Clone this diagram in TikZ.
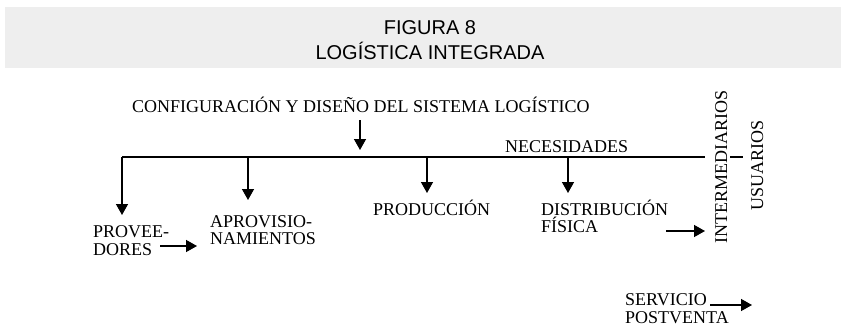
\documentclass[tikz,border=0pt]{standalone}
\usepackage{fontspec}
\setmainfont{Liberation Serif}
\newfontfamily\headfont{Liberation Sans}
\usetikzlibrary{arrows.meta}
\definecolor{bannergray}{HTML}{EEEEEE}
\begin{document}
\begin{tikzpicture}[x=1pt,y=-1pt,
  head/.style={inner sep=0pt,anchor=base,font=\headfont\fontsize{20}{22}\selectfont},
  lbl/.style={inner sep=0pt,anchor=base west,font=\fontsize{18}{18}\selectfont},
  vlbl/.style={inner sep=0pt,anchor=base,rotate=90,font=\fontsize{18}{18}\selectfont},
  wire/.style={line width=1.4pt},
  arr/.style={line width=1.4pt,-{Triangle[width=12pt,length=11pt]}}]
\useasboundingbox (0,0) rectangle (841,335);
\fill[bannergray] (5,7) rectangle (841,68);
\node[head] (fig) at (430,34) {FIGURA 8};
\node[head] (tit) at (430,59.5) {LOGÍSTICA INTEGRADA};

\node[lbl] (conf) at (132,112) {CONFIGURACIÓN Y DISEÑO DEL SISTEMA LOGÍSTICO};
\node[lbl] (nec) at (505,152) {NECESIDADES};
\node[lbl] (prov) at (93,237) {\vtop{\baselineskip=18pt\hbox{PROVEE-}\hbox{DORES}}};
\node[lbl] (aprov) at (210,227) {\vtop{\baselineskip=17pt\hbox{APROVISIO-}\hbox{NAMIENTOS}}};
\node[lbl] (prod) at (373,215) {PRODUCCIÓN};
\node[lbl] (dist) at (541,215) {\vtop{\baselineskip=17pt\hbox{DISTRIBUCIÓN}\hbox{FÍSICA}}};
\node[lbl] (serv) at (625,305) {\vtop{\baselineskip=18pt\hbox{SERVICIO}\hbox{POSTVENTA}}};
\node[vlbl] (inter) at (727,167) {INTERMEDIARIOS};
\node[vlbl] (usu) at (763,165) {USUARIOS};

% hub line
\coordinate (hubL) at (122,157);
\coordinate (hubR) at (705,157);
\draw[wire] (hubL) -- (hubR);
\coordinate (dashL) at (730,157);
\coordinate (dashR) at (743,157);
\draw[wire] (dashL) -- (dashR);

% config arrow
\coordinate (c0) at (360,120);
\coordinate (c1) at (360,150);
\draw[arr] (c0) -- (c1);

% down arrows
\coordinate (tProv) at (122,215);
\coordinate (tAprov) at (248,200);
\coordinate (tProd) at (427,193);
\coordinate (tDist) at (568,193);
\draw[arr] (hubL) -- (tProv);
\draw[arr] (tAprov |- hubL) -- (tAprov);
\draw[arr] (tProd |- hubL) -- (tProd);
\draw[arr] (tDist |- hubL) -- (tDist);

% side arrows
\coordinate (pa0) at (160,246);
\coordinate (pa1) at (197,246);
\draw[arr] (pa0) -- (pa1);
\coordinate (di0) at (666,231);
\coordinate (di1) at (705,231);
\draw[arr] (di0) -- (di1);
\coordinate (sv0) at (710,305);
\coordinate (sv1) at (752,305);
\draw[arr] (sv0) -- (sv1);
\end{tikzpicture}
\end{document}
